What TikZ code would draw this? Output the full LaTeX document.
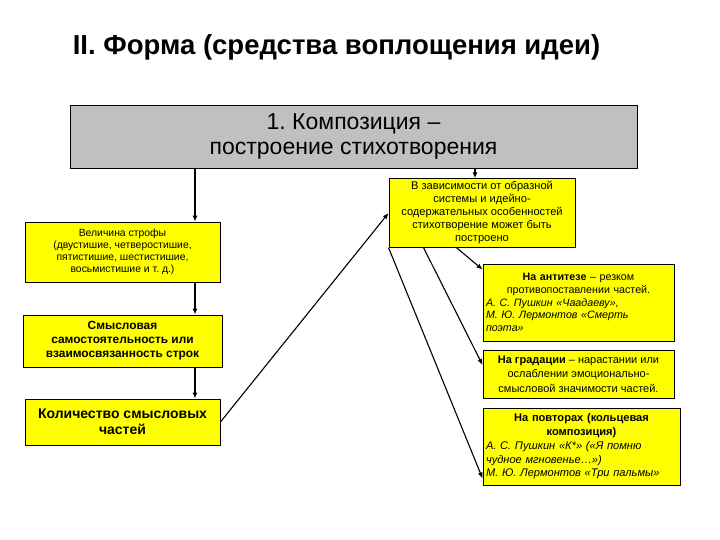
\documentclass[tikz,border=0pt]{standalone}
\usepackage{fontspec}
\setmainfont{Liberation Sans}
\usetikzlibrary{arrows.meta,positioning,calc}
\definecolor{cY}{HTML}{FFFF00}
\definecolor{cG}{HTML}{C0C0C0}
\newcommand{\fsz}[2]{\fontsize{#1}{#2}\selectfont}
\frenchspacing
\tikzset{
  hbox/.style={draw=black,line width=0.9pt,fill=cG,align=center,inner sep=2pt},
  ybox/.style={draw=black,line width=0.9pt,fill=cY,align=center,inner sep=3pt},
  arr/.style={-{Latex[length=6pt,width=5pt]},line width=1.7pt},
  darr/.style={-{Latex[length=6pt,width=5pt]},line width=1.1pt},
}
\begin{document}
\begin{tikzpicture}[x=1pt,y=-1pt]
  \useasboundingbox (0,0) rectangle (720,540);
  % heading and main block
  \node[font=\fsz{27.5}{32}\bfseries] (title) at (336.5,47) {II. Форма (средства воплощения идеи)};
  \node[hbox,minimum width=567pt,minimum height=63pt,font=\fsz{23}{25}] (comp) at (353.5,136.5)
    {1. Композиция –\\построение стихотворения};
  % left column
  \coordinate (lx) at (195,0);
  \node[ybox,minimum width=195pt,minimum height=60pt,font=\fsz{10.4}{12}] (strofa) at (122.5,252)
    {Величина строфы\\(двустишие, четверостишие,\\пятистишие, шестистишие,\\восьмистишие и т. д.)};
  \node[ybox,minimum width=199pt,minimum height=52pt,font=\fsz{11.9}{14}\bfseries] (smysl) at (122.5,341)
    {Смысловая\\самостоятельность или\\взаимосвязанность строк};
  \node[ybox,minimum width=195pt,minimum height=46pt,font=\fsz{14}{16}\bfseries] (kolvo) at (122.5,422)
    {Количество смысловых\\частей};
  % right column
  \coordinate (rx) at (475,0);
  \node[ybox,minimum width=186pt,minimum height=68pt,font=\fsz{11.1}{13}] (zavis) at (482,213)
    {В зависимости от образной\\системы и идейно-\\содержательных особенностей\\стихотворение может быть\\построено};
  \node[ybox,text width=185pt,minimum height=77pt,font=\fsz{10.7}{12.6},align=left] (antit) at (578.5,302.5)
    {{\centering\textbf{На антитезе} – резком\\противопоставлении частей.\par}\itshape
     А. С. Пушкин «Чаадаеву»,\\М. Ю. Лермонтов «Смерть\\поэта»};
  \node[ybox,minimum width=191pt,minimum height=48pt,font=\fsz{11}{14.5}] (grad) at (578.5,374)
    {\textbf{На градации} – нарастании или\\ослаблении эмоционально-\\смысловой значимости частей.};
  \node[ybox,text width=191pt,minimum height=77pt,font=\fsz{11.1}{13.7},align=left] (povt) at (581.5,446.5)
    {{\centering\bfseries На повторах (кольцевая\\композиция)\par}\itshape
     А. С. Пушкин «К*» («Я помню\\чудное мгновенье…»)\\М. Ю. Лермонтов «Три пальмы»};
  % connectors
  \draw[arr] (comp.south -| lx) -- (strofa.north -| lx);
  \draw[arr] (strofa.south -| lx) -- (smysl.north -| lx);
  \draw[arr] (smysl.south -| lx) -- (kolvo.north -| lx);
  \draw[darr] (comp.south -| rx) -- (zavis.north -| rx);
  \draw[darr] (kolvo.east) -- (zavis.west);
  \draw[darr] ($(zavis.south west)+(68,0)$) -- ($(antit.north west)+(0,6)$);
  \draw[darr] ($(zavis.south west)+(35,0)$) -- ($(grad.west)+(0,-9)$);
  \draw[darr] (zavis.south west) -- ($(povt.south west)+(0,-7)$);
\end{tikzpicture}
\end{document}
